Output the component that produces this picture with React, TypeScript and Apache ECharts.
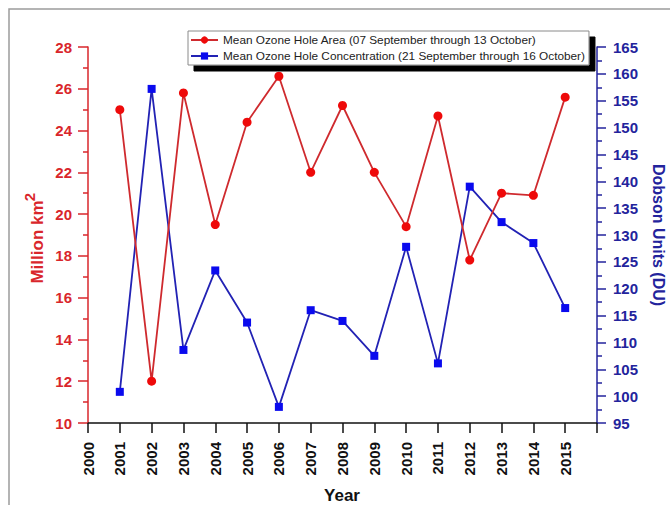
import React, { useEffect, useRef } from "react";
import * as echarts from "echarts";

const years = [2001, 2002, 2003, 2004, 2005, 2006, 2007, 2008, 2009, 2010, 2011, 2012, 2013, 2014, 2015];
const holeArea = [25.0, 12.0, 25.8, 19.5, 24.4, 26.6, 22.0, 25.2, 22.0, 19.4, 24.7, 17.8, 21.0, 20.9, 25.6];
const holeConcentration = [100.8, 157.2, 108.6, 123.4, 113.7, 98.0, 116.0, 114.0, 107.5, 127.8, 106.1, 139.0, 132.4, 128.5, 116.4];
const seriesNames = [
  "Mean Ozone Hole Area (07 September through 13 October)",
  "Mean Ozone Hole Concentration (21 September through 16 October)",
];
const yearRange = [2000, 2016];
const areaRange = [10, 28];
const duRange = [95, 165];

const FONT = "'Liberation Sans', Arial, sans-serif";
const RED = "#d9262b";
const NAVY = "#23239c";

export default function App() {
  const ref = useRef<HTMLDivElement>(null);
  useEffect(() => {
    if (!ref.current) return;
    const chart = echarts.init(ref.current, undefined, { renderer: "svg" });
    const option: any = {
      animation: false,
      backgroundColor: "#ffffff",
      textStyle: { fontFamily: FONT },
      grid: { left: 88, right: 73, top: 47, bottom: 82, containLabel: false },
      legend: {
        orient: "vertical",
        left: 188,
        top: 31,
        padding: [3, 4, 3, 2],
        itemGap: 4,
        itemWidth: 27,
        itemHeight: 9,
        backgroundColor: "#ffffff",
        borderColor: "#8a8a8a",
        borderWidth: 1,
        shadowColor: "#000000",
        shadowOffsetX: 6,
        shadowOffsetY: 6,
        shadowBlur: 0,
        textStyle: { fontFamily: FONT, fontSize: 11.8, color: "#222" },
        data: seriesNames,
        z: 20,
      },
      xAxis: {
        type: "value",
        min: yearRange[0],
        max: yearRange[1],
        interval: 1,
        axisLine: { show: true, lineStyle: { color: "#111", width: 1.5 } },
        axisTick: { show: true, length: 10, lineStyle: { color: "#111", width: 1.5 } },
        axisLabel: {
          rotate: 90,
          margin: 19,
          fontFamily: FONT,
          fontWeight: "bold",
          fontSize: 15,
          color: "#111",
          formatter: (v: number) => (v >= yearRange[1] ? "" : String(v)),
        },
        splitLine: { show: false },
      },
      yAxis: [
        {
          type: "value",
          position: "left",
          min: areaRange[0],
          max: areaRange[1],
          interval: 2,
          axisLine: { show: true, lineStyle: { color: RED, width: 1.5 } },
          axisTick: { show: true, length: 10, lineStyle: { color: RED, width: 1.5 } },
          minorTick: { show: true, splitNumber: 2, length: 5, lineStyle: { color: RED, width: 1.5 } },
          axisLabel: { margin: 16, fontFamily: FONT, fontWeight: "bold", fontSize: 15, color: RED },
          splitLine: { show: false },
        },
        {
          type: "value",
          position: "right",
          min: duRange[0],
          max: duRange[1],
          interval: 5,
          axisLine: { show: true, lineStyle: { color: NAVY, width: 1.5 } },
          axisTick: { show: true, length: 9, lineStyle: { color: NAVY, width: 1.5 } },
          minorTick: { show: true, splitNumber: 2, length: 5, lineStyle: { color: NAVY, width: 1.5 } },
          axisLabel: { margin: 16, fontFamily: FONT, fontWeight: "bold", fontSize: 15, color: NAVY },
          splitLine: { show: false },
        },
      ],
      series: [
        {
          name: seriesNames[0],
          type: "line",
          yAxisIndex: 0,
          data: years.map((y, i) => [y, holeArea[i]]),
          symbol: "circle",
          symbolSize: 9,
          lineStyle: { color: "#cf2a2e", width: 1.8 },
          itemStyle: { color: "#ee0a0a" },
          z: 3,
        },
        {
          name: seriesNames[1],
          type: "line",
          yAxisIndex: 1,
          data: years.map((y, i) => [y, holeConcentration[i]]),
          symbol: "rect",
          symbolSize: 8,
          lineStyle: { color: "#2222b4", width: 1.8 },
          itemStyle: { color: "#0a0aee" },
          z: 2,
        },
      ],
      graphic: [
        {
          type: "rect",
          z: -10,
          silent: true,
          shape: { x: 9, y: 9, width: 720, height: 620 },
          style: { fill: "none", stroke: "#9c9c9c", lineWidth: 1.5 },
        },
        {
          type: "text",
          x: 37,
          y: 242,
          rotation: Math.PI / 2,
          style: {
            text: "Million km",
            fontFamily: FONT,
            fontWeight: "bold",
            fontSize: 17,
            fill: RED,
            align: "center",
            verticalAlign: "middle",
          },
        },
        {
          type: "text",
          x: 29,
          y: 197,
          rotation: Math.PI / 2,
          style: {
            text: "2",
            fontFamily: FONT,
            fontWeight: "bold",
            fontSize: 15,
            fill: RED,
            align: "center",
            verticalAlign: "middle",
          },
        },
        {
          type: "text",
          x: 658,
          y: 235,
          rotation: -Math.PI / 2,
          style: {
            text: "Dobson Units (DU)",
            fontFamily: FONT,
            fontWeight: "bold",
            fontSize: 16,
            fill: NAVY,
            align: "center",
            verticalAlign: "middle",
          },
        },
        {
          type: "text",
          x: 342,
          y: 495,
          style: {
            text: "Year",
            fontFamily: FONT,
            fontWeight: "bold",
            fontSize: 17,
            fill: "#111",
            align: "center",
            verticalAlign: "middle",
          },
        },
      ],
    };
    chart.setOption(option);
    return () => chart.dispose();
  }, []);
  return (
    <div
      ref={ref}
      style={{ position: "fixed", left: 0, top: 0, width: 670, height: 505 }}
    />
  );
}
